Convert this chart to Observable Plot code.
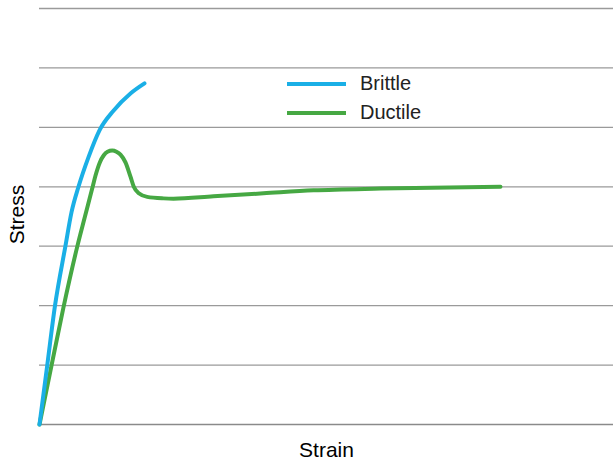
<!DOCTYPE html>
<html>
<head>
<meta charset="utf-8">
<script src="https://cdn.jsdelivr.net/npm/d3@7"></script>
<script src="https://cdn.jsdelivr.net/npm/@observablehq/plot@0.6"></script>
<style>
  html, body { margin: 0; padding: 0; background: #fff; }
  #wrap { position: relative; width: 613px; height: 461px; font-family: "Liberation Sans", Arial, sans-serif; }
  .legend { position: absolute; left: 287px; top: 69px; }
  .legend .item { display: flex; align-items: center; height: 29px; }
  .legend .sw { width: 59px; height: 4px; margin-right: 14px; }
  .legend .lab { font-size: 20px; color: #222; }
</style>
</head>
<body>
<div id="wrap"></div>
<script>
// Series names and colors
const seriesNames = ["Brittle", "Ductile"];
const seriesColors = ["#1aafe6", "#46a843"];

// Brittle curve: strain, stress
const brittleStrain = [0, 1.34, 2.70, 4.53, 5.57, 6.79, 8.54, 10.45, 12.89, 15.85, 18.29];
const brittleStress = [0, 0.99, 2.00, 3.01, 3.57, 4.00, 4.50, 4.95, 5.28, 5.57, 5.74];

// Ductile curve: strain, stress
const ductileStrain = [0, 2.09, 4.13, 6.62, 7.84, 9.18, 9.76, 10.51, 11.20, 11.85, 12.67, 13.41, 14.11, 14.98, 15.85, 16.43, 17.30, 18.76, 21.60, 23.34, 30.31, 39.02, 47.74, 59.41, 80.31];
const ductileStress = [0, 0.99, 1.95, 3.01, 3.47, 3.97, 4.19, 4.41, 4.53, 4.59, 4.61, 4.59, 4.54, 4.41, 4.17, 4.00, 3.89, 3.83, 3.805, 3.80, 3.84, 3.89, 3.94, 3.97, 4.00];

// Gridline stress levels
const gridLevels = [1, 2, 3, 4, 5, 6, 7];

const xLabel = "Strain";
const yLabel = "Stress";

const brittle = brittleStrain.map((x, i) => ({x, y: brittleStress[i], s: seriesNames[0]}));
const ductile = ductileStrain.map((x, i) => ({x, y: ductileStress[i], s: seriesNames[1]}));

const chart = Plot.plot({
  width: 613,
  height: 461,
  marginLeft: 39,
  marginRight: 0,
  marginTop: 8,
  marginBottom: 37,
  x: {domain: [0, 100], axis: null},
  y: {domain: [0, 7], axis: null},
  style: {fontFamily: "'Liberation Sans', Arial, sans-serif", background: "#fff"},
  marks: [
    Plot.ruleY(gridLevels, {stroke: "#9a9a9a", strokeWidth: 1.3, strokeOpacity: 1}),
    Plot.ruleY([0], {stroke: "#8a8a8a", strokeWidth: 1.5, strokeOpacity: 1}),
    Plot.line(ductile, {x: "x", y: "y", stroke: seriesColors[1], strokeWidth: 4, curve: "monotone-x"}),
    Plot.line(brittle, {x: "x", y: "y", stroke: seriesColors[0], strokeWidth: 4, curve: "monotone-x"}),
    Plot.text([xLabel], {frameAnchor: "bottom", lineAnchor: "bottom", textAnchor: "middle", dy: 32, text: d => d, fontSize: 21, fill: "#000"}),
    Plot.text([yLabel], {frameAnchor: "left", lineAnchor: "bottom", textAnchor: "middle", rotate: -90, dx: -16, dy: -2, text: d => d, fontSize: 21, fill: "#000"})
  ]
});

const wrap = document.getElementById("wrap");
wrap.appendChild(chart);

const legend = document.createElement("div");
legend.className = "legend";
seriesNames.forEach((n, i) => {
  const item = document.createElement("div");
  item.className = "item";
  const sw = document.createElement("div");
  sw.className = "sw";
  sw.style.background = seriesColors[i];
  const lab = document.createElement("span");
  lab.className = "lab";
  lab.textContent = n;
  item.appendChild(sw);
  item.appendChild(lab);
  legend.appendChild(item);
});
wrap.appendChild(legend);
</script>
</body>
</html>
